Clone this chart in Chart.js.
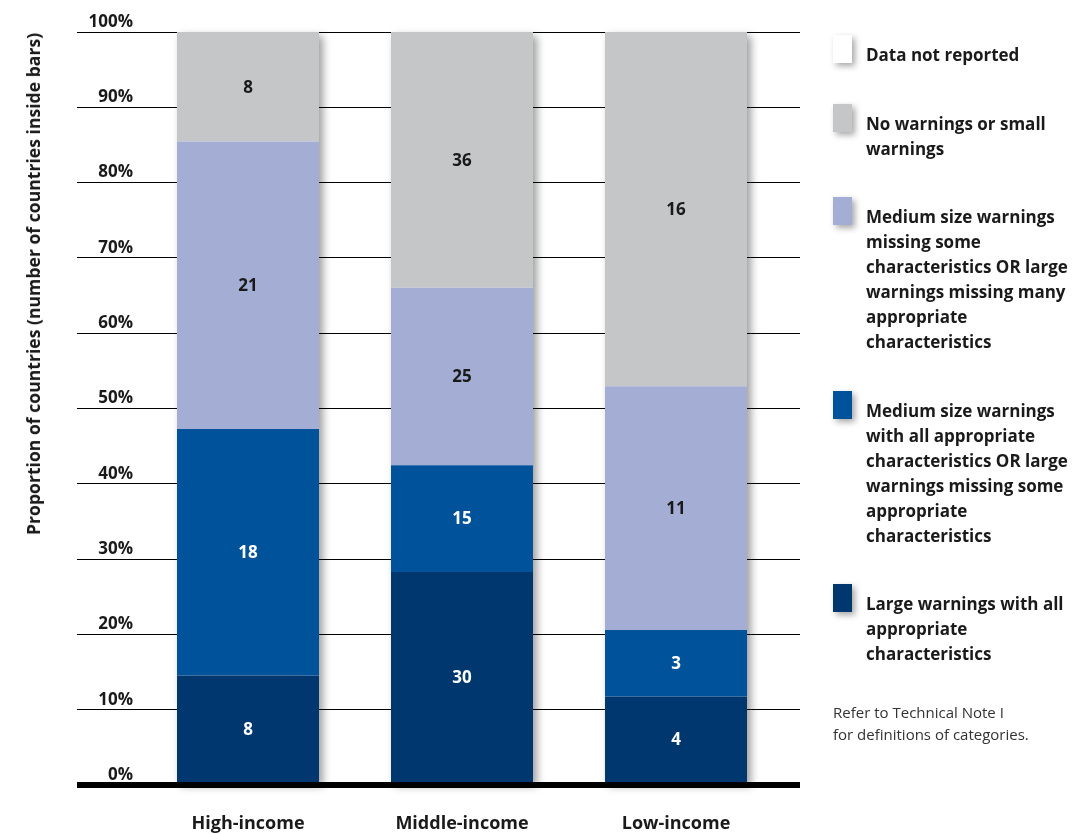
<!DOCTYPE html>
<html>
<head>
<meta charset="utf-8">
<script src="https://cdn.jsdelivr.net/npm/chart.js@4.4.1/dist/chart.umd.min.js"></script>
<style>
  body { margin: 0; background: #fff; font-family: "Open Sans", sans-serif; }
  #wrap { position: relative; width: 1078px; height: 834px; overflow: hidden; }
  #chart { position: absolute; left: 0; top: 0; }
  #ytitle {
    position: absolute; left: 33px; top: 284px;
    transform: translate(-50%, -50%) rotate(-90deg);
    white-space: nowrap; font-weight: 700; font-size: 17.6px; color: #1a1a1a;
  }
  #legend { position: absolute; left: 833px; top: 42px; width: 245px; }
  .item { position: relative; padding-left: 33px; margin-bottom: 43.5px;
          font-weight: 700; font-size: 17px; line-height: 25px; color: #1a1a1a; white-space: pre-line; }
  .sw { position: absolute; left: 0; top: -7px; width: 19px; height: 28px; box-shadow: 3px 3px 6px rgba(0,0,0,0.35); }
  #note { font-size: 15px; line-height: 22px; color: #333; white-space: pre-line; margin-top: -9px; }
</style>
</head>
<body>
<div id="wrap">
  <canvas id="chart" width="1078" height="834"></canvas>
  <div id="ytitle">Proportion of countries (number of countries inside bars)</div>
  <div id="legend"></div>
</div>
<script>
// data (number of countries per category)
const categories = ["High-income", "Middle-income", "Low-income"];
const largeAll = [8, 30, 4];        // Large warnings with all appropriate characteristics
const mediumAll = [18, 15, 3];      // Medium size with all ... OR large missing some
const mediumMissing = [21, 25, 11]; // Medium size missing some ... OR large missing many
const noWarnings = [8, 36, 16];     // No warnings or small warnings
const notReported = [0, 0, 0];      // Data not reported

const seriesNames = [
  "Large warnings with all\nappropriate\ncharacteristics",
  "Medium size warnings\nwith all appropriate\ncharacteristics OR large\nwarnings missing some\nappropriate\ncharacteristics",
  "Medium size warnings\nmissing some\ncharacteristics OR large\nwarnings missing many\nappropriate\ncharacteristics",
  "No warnings or small\nwarnings",
  "Data not reported"
];
const seriesColors = ["#00376f", "#00529b", "#a4aed4", "#c5c6c8", "#ffffff"];
const labelColors = ["#ffffff", "#ffffff", "#1a1a1a", "#1a1a1a", "#1a1a1a"];
const yTicks = [0, 10, 20, 30, 40, 50, 60, 70, 80, 90, 100];

const counts = [largeAll, mediumAll, mediumMissing, noWarnings, notReported];
const totals = categories.map((_, i) => counts.reduce((s, arr) => s + arr[i], 0));
const percents = counts.map(arr => arr.map((v, i) => v / totals[i] * 100));

const FONT = '"Open Sans", sans-serif';
const gridWidth = c => (c.tick && c.tick.value === 0 ? 6 : 1);

// white box with soft shadow under each whole stack
const barShadow = {
  id: "barShadow",
  beforeDatasetsDraw(chart) {
    const ctx = chart.ctx;
    const bottom = chart.getDatasetMeta(0).data;
    const top = chart.getDatasetMeta(counts.length - 1).data;
    ctx.save();
    ctx.shadowColor = "rgba(0,0,0,0.38)";
    ctx.shadowBlur = 8;
    ctx.shadowOffsetX = 4;
    ctx.shadowOffsetY = 4;
    ctx.fillStyle = "#fff";
    bottom.forEach((b, i) => {
      const y0 = top[i].y;
      ctx.fillRect(b.x - b.width / 2, y0, b.width, b.base - y0);
    });
    ctx.restore();
  }
};

// country counts inside the segments
const valueLabels = {
  id: "valueLabels",
  afterDatasetsDraw(chart) {
    const ctx = chart.ctx;
    ctx.save();
    ctx.font = "700 17px " + FONT;
    ctx.textAlign = "center";
    ctx.textBaseline = "middle";
    counts.forEach((arr, di) => {
      chart.getDatasetMeta(di).data.forEach((bar, i) => {
        if (!arr[i]) return;
        ctx.fillStyle = labelColors[di];
        ctx.fillText(arr[i], bar.x, (bar.y + bar.base) / 2 + 1);
      });
    });
    ctx.restore();
  }
};

new Chart(document.getElementById("chart"), {
  type: "bar",
  data: {
    labels: categories,
    datasets: counts.map((arr, di) => ({
      label: seriesNames[di].replace(/\n/g, " "),
      data: percents[di],
      backgroundColor: seriesColors[di],
      borderWidth: 0,
      barPercentage: 142 / 214,
      categoryPercentage: 1
    }))
  },
  options: {
    responsive: false,
    devicePixelRatio: 1,
    animation: false,
    layout: { padding: { left: 77, right: 278, top: 32, bottom: 0 } },
    plugins: { legend: { display: false }, tooltip: { enabled: false } },
    scales: {
      x: {
        stacked: true,
        afterFit: s => { s.height = 49; },
        grid: { display: false, drawTicks: false },
        border: { display: false },
        ticks: { font: { family: FONT, weight: "700", size: 18 }, color: "#1a1a1a", padding: 28 }
      },
      y: {
        stacked: true,
        min: 0, max: 100,
        afterBuildTicks: s => { s.ticks = yTicks.map(v => ({ value: v })); },
        afterFit: s => { s.width = 64; },
        border: { display: false },
        grid: { color: "#000", lineWidth: gridWidth, tickLength: 64 },
        ticks: {
          callback: v => v + "%",
          font: { family: FONT, weight: "700", size: 17 },
          color: "#1a1a1a",
          crossAlign: "near",
          padding: -56,
          labelOffset: -10
        }
      },
      yR: {
        position: "right",
        min: 0, max: 100,
        afterBuildTicks: s => { s.ticks = yTicks.map(v => ({ value: v })); },
        afterFit: s => { s.width = 17; },
        border: { display: false },
        grid: { drawOnChartArea: false, color: "#000", lineWidth: gridWidth, tickLength: 17 },
        ticks: { display: false }
      }
    }
  },
  plugins: [barShadow, valueLabels]
});

// legend, top to bottom = reverse stacking order
const legend = document.getElementById("legend");
for (let di = counts.length - 1; di >= 0; di--) {
  const item = document.createElement("div");
  item.className = "item";
  item.textContent = seriesNames[di];
  const sw = document.createElement("span");
  sw.className = "sw";
  sw.style.background = seriesColors[di];
  item.prepend(sw);
  legend.appendChild(item);
}
const note = document.createElement("div");
note.id = "note";
note.textContent = "Refer to Technical Note I\nfor definitions of categories.";
legend.appendChild(note);
</script>
</body>
</html>
